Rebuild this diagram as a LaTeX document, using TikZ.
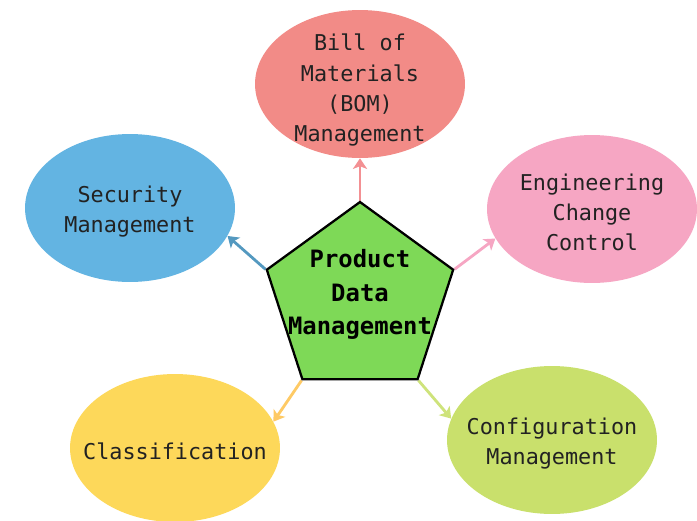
\documentclass[tikz,border=0pt]{standalone}
\usepackage{fontspec}
\setmonofont{DejaVu Sans Mono}
\usetikzlibrary{shapes.geometric,arrows.meta,backgrounds}

\definecolor{bomred}{HTML}{F28B87}
\definecolor{secblue}{HTML}{63B4E2}
\definecolor{engpink}{HTML}{F6A6C3}
\definecolor{clsyellow}{HTML}{FDD85A}
\definecolor{cfglime}{HTML}{C9E06C}
\definecolor{pdmgreen}{HTML}{7ED957}
\definecolor{txtgray}{HTML}{222222}

\tikzstyle{bub}=[ellipse, minimum width=4.2cm, minimum height=2.96cm, inner sep=0pt]
\tikzstyle{txt}=[align=center, text=txtgray, yshift=-2pt, font=\ttfamily\fontsize{12.4}{17.2}\selectfont]
\tikzstyle{pdmtxt}=[align=center, text=black, font=\ttfamily\bfseries\fontsize{13.6}{19}\selectfont]
\tikzstyle{pent}=[regular polygon, regular polygon sides=5, minimum size=3.92cm, inner sep=0pt, draw=black, line width=1.3pt, fill=pdmgreen]
\tikzstyle{link}=[line width=1.6pt, -{Stealth[length=6pt,width=8pt,inset=1.5pt]}]

\begin{document}
\begin{tikzpicture}[x=0.02cm, y=-0.02cm]
  \useasboundingbox (0,0) rectangle (697,521);

  % centre pentagon
  \node[pent, label={[pdmtxt, yshift=3pt]center:Product\\Data\\Management}] (pdm) at (360,300) {};

  % the five areas round it
  \node[bub, fill=bomred, label={[txt, yshift=-1.5pt]center:Bill of\\Materials\\(BOM)\\Management}] (bom) at (360,84) {};
  \node[bub, fill=secblue, label={[txt]center:Security\\Management}] (sec) at (130,208) {};
  \node[bub, fill=engpink, label={[txt]center:Engineering\\Change\\Control}] (eng) at (592,209) {};
  \node[bub, fill=clsyellow, label={[txt]center:Classification}] (cls) at (175,448) {};
  \node[bub, fill=cfglime, label={[txt]center:Configuration\\Management}] (cfg) at (552,440) {};

  \begin{scope}[on background layer]
    \fill[white] (0,0) rectangle (697,521);
    \draw[link, bomred!80!engpink] (pdm.corner 1) -- (bom.south);
    \draw[link, secblue!85!black] (pdm.corner 2) -- (sec.-16);
    \draw[link, engpink] (pdm.corner 5) -- (eng.197);
    \draw[link, clsyellow!70!orange!80!white] (pdm.corner 3) -- (cls.15);
    \draw[link, cfglime!90!white] (pdm.corner 4) -- (cfg.168);
  \end{scope}
\end{tikzpicture}
\end{document}
